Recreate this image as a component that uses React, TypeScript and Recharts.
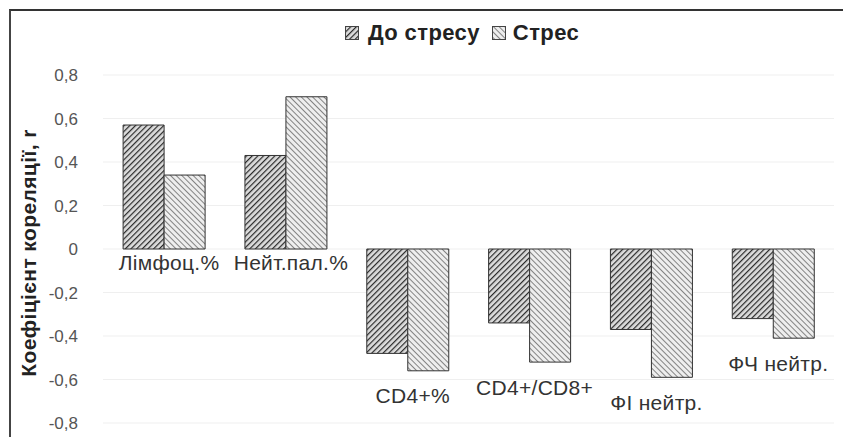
import { Bar, BarChart, CartesianGrid, LabelList, Legend, XAxis, YAxis } from "recharts";

const categories = ["Лімфоц.%", "Нейт.пал.%", "CD4+%", "CD4+/CD8+", "ФІ нейтр.", "ФЧ нейтр."];
const beforeStress = [0.57, 0.43, -0.48, -0.34, -0.37, -0.32];
const stress = [0.34, 0.7, -0.56, -0.52, -0.59, -0.41];
const yTicks = [-0.8, -0.6, -0.4, -0.2, 0, 0.2, 0.4, 0.6, 0.8];

const seriesNames = { before: "До стресу", stress: "Стрес" };

const data = categories.map((name, i) => ({
  name,
  before: beforeStress[i],
  stress: stress[i],
}));

const FONT = "'Liberation Sans', Arial, sans-serif";

const fmtTick = (v: number) => (v === 0 ? "0" : v.toFixed(1).replace(".", ","));

function Swatch({ fill }: { fill: string }) {
  return (
    <svg width={14} height={14} style={{ display: "block" }}>
      <rect x={0.5} y={0.5} width={13} height={13} fill={fill} stroke="#444" strokeWidth={1} />
    </svg>
  );
}

function LegendBox() {
  return (
    <div
      style={{
        height: 30,
        display: "flex",
        alignItems: "center",
        justifyContent: "center",
        fontFamily: FONT,
        fontWeight: "bold",
        fontSize: 22,
        letterSpacing: 0.4,
        color: "#222",
        paddingLeft: 90,
      }}
    >
      <Swatch fill="url(#hatchDark)" />
      <span style={{ marginLeft: 9, marginRight: 12 }}>{seriesNames.before}</span>
      <Swatch fill="url(#hatchLight)" />
      <span style={{ marginLeft: 7 }}>{seriesNames.stress}</span>
    </div>
  );
}

// category name sits under the lower end of the pair (or under zero for positive pairs)
function CategoryLabel(props: any) {
  const { x, y, height, index } = props;
  const bottom = Math.max(y, y + height);
  const neg = stress[index] < 0;
  return (
    <text
      x={x + 5}
      y={bottom + (neg ? 25 : 13)}
      textAnchor="middle"
      dominantBaseline="central"
      fontFamily={FONT}
      fontSize={21}
      letterSpacing={0.3}
      fill="#333"
    >
      {categories[index]}
    </text>
  );
}

export default function App() {
  return (
    <div style={{ position: "absolute", left: 0, top: 0, width: 843, height: 437, background: "#fff" }}>
      <div
        style={{
          position: "absolute",
          left: 9,
          top: 9,
          width: 834,
          height: 428,
          borderTop: "2px solid #333",
          borderLeft: "2px solid #444",
          boxSizing: "border-box",
        }}
      />
      <BarChart
        width={843}
        height={437}
        data={data}
        margin={{ top: 45, right: 9, bottom: 14, left: 0 }}
        barCategoryGap="16.5%"
        barGap={0}
      >
        <defs>
          <pattern id="hatchDark" patternUnits="userSpaceOnUse" width={4} height={4} patternTransform="rotate(45)">
            <rect width={4} height={4} fill="#dcdcdc" />
            <line x1={0} y1={0} x2={0} y2={4} stroke="#2a2a2a" strokeWidth={2.4} />
          </pattern>
          <pattern id="hatchLight" patternUnits="userSpaceOnUse" width={4} height={4} patternTransform="rotate(-45)">
            <rect width={4} height={4} fill="#eeeeee" />
            <line x1={0} y1={0} x2={0} y2={4} stroke="#707070" strokeWidth={1.7} />
          </pattern>
        </defs>
        <CartesianGrid vertical={false} stroke="#efefef" />
        <XAxis dataKey="name" hide />
        <YAxis
          width={103}
          domain={[-0.8, 0.8]}
          ticks={yTicks}
          tickFormatter={fmtTick}
          axisLine={false}
          tickLine={false}
          tickSize={0}
          tickMargin={25}
          tick={{ fontFamily: FONT, fontSize: 17, fill: "#555" }}
          label={{
            content: ({ viewBox }: any) => {
              const cx = viewBox.x + 28;
              const cy = viewBox.y + viewBox.height / 2 + 4;
              return (
                <text
                  x={cx}
                  y={cy}
                  transform={`rotate(-90 ${cx} ${cy})`}
                  textAnchor="middle"
                  dominantBaseline="central"
                  fontFamily={FONT}
                  fontWeight="bold"
                  fontSize={21}
                  letterSpacing={0.4}
                  fill="#222"
                >
                  Коефіцієнт кореляції, r
                </text>
              );
            },
          }}
        />
        <Legend verticalAlign="top" wrapperStyle={{ top: 18 }} content={() => <LegendBox />} />
        <Bar
          dataKey="before"
          name={seriesNames.before}
          fill="url(#hatchDark)"
          stroke="#333"
          strokeWidth={1}
          isAnimationActive={false}
        />
        <Bar
          dataKey="stress"
          name={seriesNames.stress}
          fill="url(#hatchLight)"
          stroke="#333"
          strokeWidth={1}
          isAnimationActive={false}
        >
          <LabelList dataKey="stress" content={CategoryLabel} />
        </Bar>
      </BarChart>
    </div>
  );
}
